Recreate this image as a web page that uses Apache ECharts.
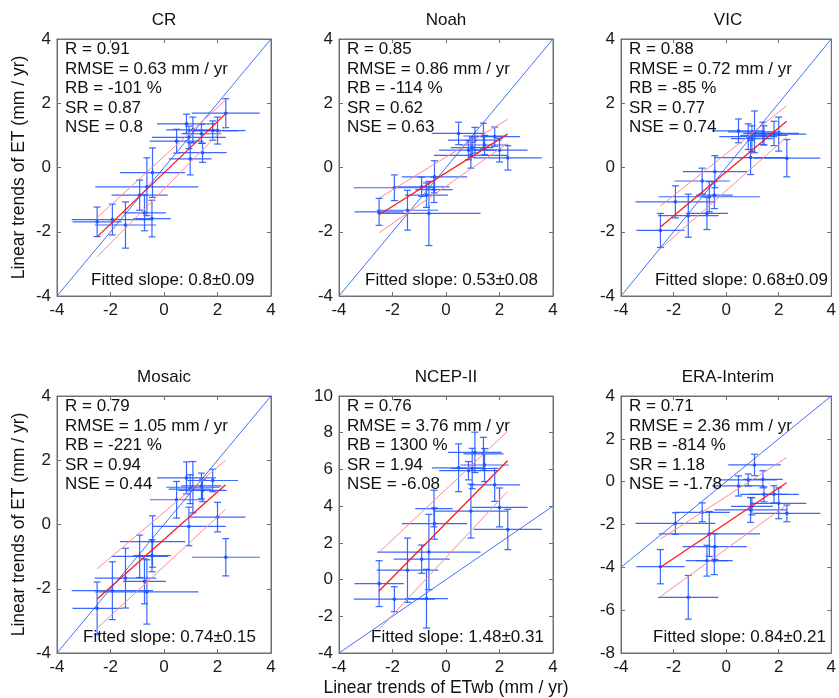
<!DOCTYPE html>
<html>
<head>
<meta charset="utf-8">
<script src="https://cdn.jsdelivr.net/npm/echarts@6/dist/echarts.min.js"></script>
<style>html,body{margin:0;padding:0;background:#fff}#c{width:839px;height:698px}</style>
</head>
<body>
<div id="c"></div>
<script>
// ---------- data ----------
const models = ['CR', 'Noah', 'VIC', 'Mosaic', 'NCEP-II', 'ERA-Interim'];
const statR = ['0.91', '0.85', '0.88', '0.79', '0.76', '0.71'];
const statRMSE = ['0.63', '0.86', '0.72', '1.05', '3.76', '2.36'];
const statRB = ['-101', '-114', '-85', '-221', '1300', '-814'];
const statSR = ['0.87', '0.62', '0.77', '0.94', '1.94', '1.18'];
const statNSE = ['0.8', '0.63', '0.74', '0.44', '-6.08', '-1.78'];
const fittedSlope = ['0.8±0.09', '0.53±0.08', '0.68±0.09', '0.74±0.15', '1.48±0.31', '0.84±0.21'];

const xMin = -4, xMax = 4, tickStep = 2;
const yMin = [-4, -4, -4, -4, -4, -8];
const yMax = [4, 4, 4, 4, 10, 4];

// observed ETwb trends (x) and their uncertainty (shared by all panels)
const etwb    = [-2.50, -1.93, -1.44, -0.91, -0.73, -0.64, -0.45, -0.43, 0.47, 0.84, 0.93, 0.98, 1.08, 1.40, 1.44, 1.82, 2.00, 2.31];
const etwbErr = [0.92, 1.52, 1.15, 1.05, 0.80, 1.93, 0.70, 1.22, 1.00, 1.10, 1.38, 0.80, 1.00, 0.75, 0.90, 0.95, 1.05, 1.27];

// modelled ET trends (y) and uncertainty
const etCR      = [-1.69, -1.62, -1.79, -0.86, -1.41, -0.60, -1.59, -0.16, 0.82, 1.36, 0.94, 0.27, 1.17, 1.05, 0.46, 1.15, 1.15, 1.69];
const errCR     = [0.46, 0.48, 0.72, 0.47, 0.56, 0.90, 0.57, 0.77, 0.37, 0.30, 0.35, 0.50, 0.40, 0.30, 0.30, 0.30, 0.42, 0.45];
const etNoah    = [-1.38, -0.63, -1.33, -0.60, -0.86, -1.43, -0.69, -0.29, 1.06, 0.54, 0.38, 0.62, 0.85, 0.98, 0.70, 0.96, 0.54, 0.30];
const errNoah   = [0.42, 0.40, 0.62, 0.30, 0.38, 1.00, 0.40, 0.50, 0.35, 0.30, 0.40, 0.30, 0.40, 0.40, 0.30, 0.30, 0.37, 0.38];
const etVIC     = [-1.96, -1.07, -1.50, -0.42, -1.43, -0.91, -0.86, -0.13, 1.14, 0.96, 0.31, 0.90, 1.11, 1.06, 1.00, 1.06, 1.04, 0.29];
const errVIC    = [0.53, 0.50, 0.67, 0.40, 0.50, 0.47, 0.42, 0.50, 0.37, 0.40, 0.53, 0.40, 0.65, 0.35, 0.30, 0.38, 0.53, 0.58];
const etMosaic  = [-2.61, -2.06, -1.67, -0.99, -1.77, -2.10, -0.97, -0.53, 0.77, 1.45, -0.06, 1.10, 1.16, 1.20, 1.06, 1.37, 0.23, -1.02];
const errMosaic = [0.82, 0.90, 0.93, 0.66, 0.70, 1.00, 0.50, 0.80, 0.57, 0.50, 0.60, 0.45, 0.80, 0.40, 0.35, 0.35, 0.46, 0.58];
const etNCEP    = [-0.22, -1.07, 0.51, 1.11, -1.04, 1.50, 3.87, 3.05, 6.09, 5.93, 3.73, 6.05, 6.93, 6.85, 6.24, 5.16, 3.93, 2.73];
const errNCEP   = [1.25, 0.68, 1.75, 0.77, 1.60, 2.05, 1.00, 0.85, 1.30, 0.50, 1.47, 1.10, 1.10, 0.90, 0.90, 0.90, 1.06, 1.10];
const etERA     = [-3.97, -1.95, -5.40, -1.43, -3.69, -2.44, -3.69, -3.03, -0.20, 0.08, -1.32, -1.15, 0.78, 0.11, -0.59, -0.59, -1.01, -1.48];
const errERA    = [0.80, 0.50, 1.02, 0.44, 0.72, 1.05, 0.65, 0.60, 0.47, 0.28, 0.58, 0.40, 0.50, 0.40, 0.35, 0.40, 0.72, 0.39];

const modelY   = [etCR, etNoah, etVIC, etMosaic, etNCEP, etERA];
const modelErr = [errCR, errNoah, errVIC, errMosaic, errNCEP, errERA];

// fitted line and its confidence band, y values at x = fitX ends
const fitX      = [-2.5, 2.3];
const fitY      = [[-2.16, 1.67], [-1.47, 1.04], [-1.85, 1.44], [-2.32, 1.24], [-0.62, 6.47], [-4.00, -0.05]];
const bandUpper = [[-1.56, 2.10], [-0.95, 1.50], [-1.20, 1.92], [-1.38, 2.00], [1.49, 8.07], [-2.68, 1.12]];
const bandLower = [[-2.78, 1.27], [-2.03, 0.75], [-2.53, 0.94], [-3.23, 0.47], [-2.71, 4.80], [-5.37, -1.09]];
const oneToOne  = [-4, 4];

// ---------- layout ----------
const FONT = "'Liberation Sans', Arial, sans-serif";
const gridLeft = [57, 339, 621];
const gridTop = [39, 396];
const gridW = 214, gridH = 257;
const BLUE = '#2456ff';
const AXIS = '#707070';

const grids = [], xAxes = [], yAxes = [], series = [], graphics = [];

function renderErr(params, api) {
  const x = api.value(0), y = api.value(1), ex = api.value(2), ey = api.value(3);
  const c = api.coord([x, y]);
  const l = api.coord([x - ex, y]), r = api.coord([x + ex, y]);
  const t = api.coord([x, y + ey]), b = api.coord([x, y - ey]);
  const st = { stroke: BLUE, lineWidth: 1.2, opacity: 0.9 };
  const cap = 3.5;
  return {
    type: 'group',
    children: [
      { type: 'line', shape: { x1: l[0], y1: l[1], x2: r[0], y2: r[1] }, style: st },
      { type: 'line', shape: { x1: t[0], y1: t[1], x2: b[0], y2: b[1] }, style: st },
      { type: 'line', shape: { x1: t[0] - cap, y1: t[1], x2: t[0] + cap, y2: t[1] }, style: st },
      { type: 'line', shape: { x1: b[0] - cap, y1: b[1], x2: b[0] + cap, y2: b[1] }, style: st },
      { type: 'circle', shape: { cx: c[0], cy: c[1], r: 1.8 }, style: { fill: BLUE } }
    ]
  };
}

models.forEach((name, i) => {
  const col = i % 3, row = Math.floor(i / 3);
  const L = gridLeft[col], T = gridTop[row];
  grids.push({ left: L, top: T, width: gridW, height: gridH, show: true, borderColor: AXIS, borderWidth: 1, backgroundColor: '#fff' });
  const tickStyle = { show: true, inside: true, length: 4, lineStyle: { color: AXIS } };
  const lineStyle = { show: true, onZero: false, lineStyle: { color: AXIS } };
  const lblStyle = { fontSize: 17, fontFamily: FONT, color: '#1a1a1a' };
  xAxes.push({ type: 'value', gridIndex: i, min: xMin, max: xMax, interval: tickStep, position: 'bottom',
    axisLine: lineStyle, axisTick: tickStyle,
    axisLabel: Object.assign({ margin: 6 }, lblStyle), splitLine: { show: false } });
  xAxes.push({ type: 'value', gridIndex: i, min: xMin, max: xMax, interval: tickStep, position: 'top',
    axisLine: lineStyle, axisTick: tickStyle,
    axisLabel: { show: false }, splitLine: { show: false } });
  yAxes.push({ type: 'value', gridIndex: i, min: yMin[i], max: yMax[i], interval: tickStep, position: 'left',
    axisLine: lineStyle, axisTick: tickStyle,
    axisLabel: Object.assign({ margin: 6 }, lblStyle), splitLine: { show: false } });
  yAxes.push({ type: 'value', gridIndex: i, min: yMin[i], max: yMax[i], interval: tickStep, position: 'right',
    axisLine: lineStyle, axisTick: tickStyle,
    axisLabel: { show: false }, splitLine: { show: false } });

  const xi = 2 * i, yi = 2 * i;
  // 1:1 line
  series.push({ type: 'line', xAxisIndex: xi, yAxisIndex: yi, data: [[oneToOne[0], oneToOne[0]], [oneToOne[1], oneToOne[1]]],
    showSymbol: false, symbol: 'none', silent: true, lineStyle: { color: '#4070ff', width: 1 }, z: 2 });
  // error bars
  const pts = etwb.map((x, k) => [x, modelY[i][k], etwbErr[k], modelErr[i][k]]);
  series.push({ type: 'custom', xAxisIndex: xi, yAxisIndex: yi, data: pts, renderItem: renderErr, clip: true, silent: true, z: 3 });
  // confidence bands
  series.push({ type: 'line', xAxisIndex: xi, yAxisIndex: yi, data: [[fitX[0], bandUpper[i][0]], [fitX[1], bandUpper[i][1]]],
    symbol: 'none', silent: true, lineStyle: { color: '#ff8a8a', width: 1 }, z: 4 });
  series.push({ type: 'line', xAxisIndex: xi, yAxisIndex: yi, data: [[fitX[0], bandLower[i][0]], [fitX[1], bandLower[i][1]]],
    symbol: 'none', silent: true, lineStyle: { color: '#ff8a8a', width: 1 }, z: 4 });
  // fitted line
  series.push({ type: 'line', xAxisIndex: xi, yAxisIndex: yi, data: [[fitX[0], fitY[i][0]], [fitX[1], fitY[i][1]]],
    symbol: 'none', silent: true, lineStyle: { color: '#ff1a1a', width: 1.3 }, z: 5 });

  // title
  graphics.push({ type: 'text', x: L + gridW / 2, y: T - 19, z: 10,
    style: { text: name, fontSize: 17, fontFamily: FONT, fill: '#111', align: 'center', verticalAlign: 'middle', textAlign: 'center', textVerticalAlign: 'middle' } });
  // statistics
  const stats = ['R = ' + statR[i], 'RMSE = ' + statRMSE[i] + ' mm / yr', 'RB = ' + statRB[i] + ' %', 'SR = ' + statSR[i], 'NSE = ' + statNSE[i]].join('\n');
  graphics.push({ type: 'text', x: L + 8, y: T + 1, z: 10,
    style: { text: stats, fontSize: 17, lineHeight: 19.5, fontFamily: FONT, fill: '#111', align: 'left', verticalAlign: 'top', textAlign: 'left', textVerticalAlign: 'top' } });
  // fitted slope
  const slopeOffset = [34, 26, 34, 26, 32, 32];
  graphics.push({ type: 'text', x: L + slopeOffset[i], y: T + gridH - 16, z: 10,
    style: { text: 'Fitted slope: ' + fittedSlope[i], fontSize: 17, fontFamily: FONT, fill: '#111', align: 'left', verticalAlign: 'middle', textAlign: 'left', textVerticalAlign: 'middle' } });
});

// axis names
gridTop.forEach(T => {
  graphics.push({ type: 'text', x: 19, y: T + gridH / 2, rotation: Math.PI / 2, z: 10,
    style: { text: 'Linear trends of ET (mm / yr)', fontSize: 17.5, fontFamily: FONT, fill: '#111', align: 'center', verticalAlign: 'middle', textAlign: 'center', textVerticalAlign: 'middle' } });
});
graphics.push({ type: 'text', x: gridLeft[1] + gridW / 2, y: 688, z: 10,
  style: { text: 'Linear trends of ETwb (mm / yr)', fontSize: 17.5, fontFamily: FONT, fill: '#111', align: 'center', verticalAlign: 'middle', textAlign: 'center', textVerticalAlign: 'middle' } });

const chart = echarts.init(document.getElementById('c'), null, { renderer: 'canvas' });
chart.setOption({
  animation: false,
  backgroundColor: '#fff',
  grid: grids,
  xAxis: xAxes,
  yAxis: yAxes,
  series: series,
  graphic: graphics
});
</script>
</body>
</html>
